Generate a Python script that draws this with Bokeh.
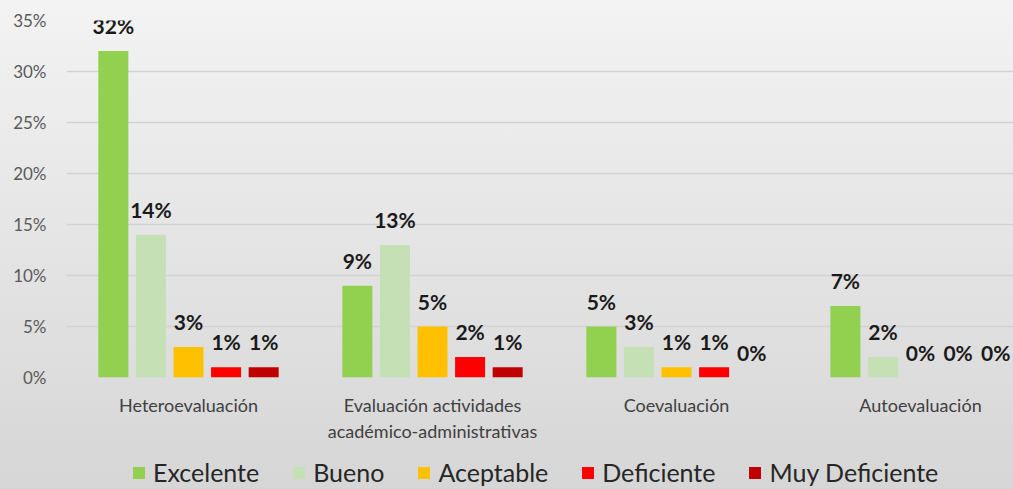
from bokeh.plotting import figure
from bokeh.layouts import column
from bokeh.models import ColumnDataSource, Legend, LegendItem, FixedTicker, Range1d
from bokeh.transform import dodge
from bokeh.embed import file_html
from bokeh.resources import INLINE
from bokeh.core.properties import value

categories = ["Heteroevaluación", "Evaluación actividades\nacadémico-administrativas",
              "Coevaluación", "Autoevaluación"]
series = ["Excelente", "Bueno", "Aceptable", "Deficiente", "Muy Deficiente"]
excelente = [32, 9, 5, 7]
bueno = [14, 13, 3, 2]
aceptable = [3, 5, 1, 0]
deficiente = [1, 2, 1, 0]
muy_deficiente = [1, 1, 0, 0]
colors = ["#92D050", "#C5E0B4", "#FFC000", "#FF0000", "#C00000"]
y_ticks = [0, 5, 10, 15, 20, 25, 30, 35]
y_tick_labels = ["0%", "5%", "10%", "15%", "20%", "25%", "30%", "35%"]

values = [excelente, bueno, aceptable, deficiente, muy_deficiente]
xs = [i + 0.5 for i in range(len(categories))]

FONT = "Lato"
W = 1013
H_MAIN = 449
H_LEG = 40

p = figure(width=W, height=H_MAIN, output_backend="svg", toolbar_location=None,
           x_range=Range1d(0, 3.881), y_range=Range1d(0, 35),
           min_border_left=66, min_border_right=0, min_border_top=20, min_border_bottom=72)
p.background_fill_alpha = 0
p.border_fill_alpha = 0
p.outline_line_color = None

step = 0.154
bw = 0.123
for k, (name, vals, col) in enumerate(zip(series, values, colors)):
    src = ColumnDataSource(dict(x=xs, top=vals, lab=[f"{v}%" for v in vals]))
    off = (k - 2) * step
    p.vbar(x=dodge("x", off), top="top", width=bw, source=src,
           fill_color=col, line_color=None)
    p.text(x=dodge("x", off), y="top", text="lab", source=src,
           text_align="center", text_baseline="bottom", y_offset=-13,
           text_font=value(FONT), text_font_style="bold", text_font_size="21px",
           text_color="#1a1a1a")

# axes
p.yaxis.ticker = FixedTicker(ticks=y_ticks)
p.yaxis.major_label_overrides = {t: l for t, l in zip(y_ticks, y_tick_labels)}
p.yaxis.axis_line_color = None
p.yaxis.major_tick_line_color = None
p.yaxis.minor_tick_line_color = None
p.yaxis.major_label_standoff = 14
p.yaxis.major_label_text_font = FONT
p.yaxis.major_label_text_font_size = "17px"
p.yaxis.major_label_text_color = "#595959"

p.xaxis.ticker = FixedTicker(ticks=xs)
p.xaxis.major_label_overrides = {x: c for x, c in zip(xs, categories)}
p.xaxis.axis_line_color = None
p.xaxis.major_tick_line_color = None
p.xaxis.minor_tick_line_color = None
p.xaxis.major_label_standoff = 10
p.xaxis.major_label_text_font = FONT
p.xaxis.major_label_text_font_size = "18px"
p.xaxis.major_label_text_color = "#404040"

p.xgrid.grid_line_color = None
p.ygrid.ticker = FixedTicker(ticks=y_ticks)
p.ygrid.grid_line_color = "#d2d2d2"
p.ygrid.grid_line_width = 1.5

# legend strip
pl = figure(width=W, height=H_LEG, output_backend="svg", toolbar_location=None,
            x_range=Range1d(0, 1), y_range=Range1d(0, 1),
            x_axis_type=None, y_axis_type=None,
            min_border_left=0, min_border_right=0, min_border_top=0, min_border_bottom=0)
pl.background_fill_alpha = 0
pl.border_fill_alpha = 0
pl.outline_line_color = None
pl.grid.visible = False
items = []
for name, col in zip(series, colors):
    # placeholder swatch renderer (kept outside the visible range)
    r = pl.vbar(x=[-10], top=[0], width=0.1, fill_color=col, line_color=None)
    items.append(LegendItem(label=name, renderers=[r]))

legend = Legend(items=items, orientation="horizontal", location=(65, 2),
                label_text_font=FONT, label_text_font_size="25px",
                label_text_color="#262626", glyph_width=15, glyph_height=15,
                label_standoff=7, spacing=32, padding=0, margin=0,
                border_line_color=None, background_fill_alpha=0)
pl.add_layout(legend, "center")

layout = column(p, pl, spacing=0,
                styles={"background": "linear-gradient(#f3f3f3, #d6d6d6)"})

open("out.html", "w").write(file_html(layout, INLINE))
